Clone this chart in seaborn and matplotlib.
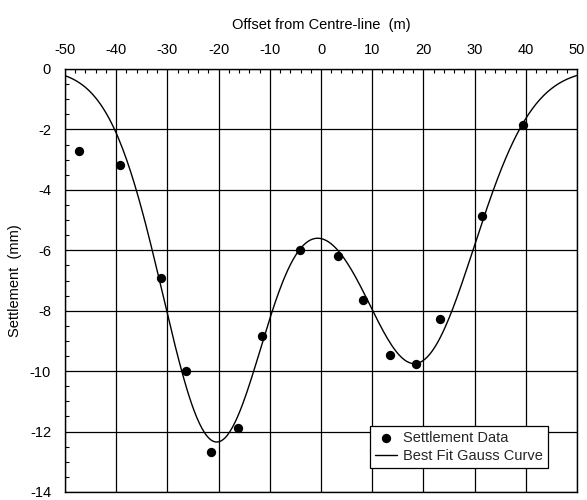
import numpy as np
import pandas as pd
import matplotlib
matplotlib.use("Agg")
import matplotlib.pyplot as plt
import seaborn as sns
from matplotlib.ticker import MultipleLocator

# Measured settlement data
offset_m = [-47.2, -39.2, -31.3, -26.4, -21.4, -16.3, -11.5, -4.1, 3.4,
            8.3, 13.4, 18.5, 23.3, 31.4, 39.5]
settlement_mm = [-2.71, -3.19, -6.91, -9.98, -12.68, -11.87, -8.83, -5.98, -6.18,
                 -7.65, -9.46, -9.75, -8.27, -4.86, -1.86]

# Best-fit Gauss curve parameters
gauss_centres = [-20.5, 18.5, 0.0]
gauss_depths = [12.3, 9.7, 1.25]
gauss_widths = [10.4, 11.4, 7.0]

x_ticks = [-50, -40, -30, -20, -10, 0, 10, 20, 30, 40, 50]
y_ticks = [0, -2, -4, -6, -8, -10, -12, -14]

sns.set_theme(style="white")
plt.rcParams['font.family'] = ['Liberation Sans', 'DejaVu Sans']

x_curve = np.linspace(-50, 50, 401)
y_curve = np.zeros_like(x_curve)
for c, a, w in zip(gauss_centres, gauss_depths, gauss_widths):
    y_curve -= a * np.exp(-(x_curve - c) ** 2 / (2 * w ** 2))

df_pts = pd.DataFrame({"x": offset_m, "y": settlement_mm})
df_curve = pd.DataFrame({"x": x_curve, "y": y_curve})

top_px, bottom_px = 69, 492
fig = plt.figure(figsize=(5.87, 5.0), dpi=100)
ax = fig.add_axes([65 / 587, 1 - bottom_px / 500, 512 / 587, (bottom_px - top_px) / 500])

sns.lineplot(data=df_curve, x="x", y="y", ax=ax, color="black", linewidth=1.0,
             label="Best Fit Gauss Curve", legend=False)
sns.scatterplot(data=df_pts, x="x", y="y", ax=ax, color="black", s=45,
                edgecolor="black", linewidth=0, label="Settlement Data", legend=False,
                zorder=5)

ax.set_xlim(-50, 50)
ax.set_ylim(-14, 0)
ax.set_xticks(x_ticks)
ax.set_yticks(y_ticks)
ax.set_xticklabels([str(v) for v in x_ticks])
ax.set_yticklabels([str(v) for v in y_ticks])
ax.xaxis.set_minor_locator(MultipleLocator(2))
ax.yaxis.set_minor_locator(MultipleLocator(0.5))

ax.xaxis.tick_top()
ax.xaxis.set_label_position("top")
ax.tick_params(axis="x", which="both", top=True, bottom=False, direction="in",
               labelsize=10.5, pad=9, colors="black")
ax.tick_params(axis="y", which="both", left=True, right=False, direction="in",
               labelsize=10.5, pad=10, colors="black")
ax.tick_params(which="major", length=0)
ax.tick_params(which="minor", length=3, width=0.8, color="black")

ax.grid(True, which="major", color="black", linewidth=0.9)
for sp in ax.spines.values():
    sp.set_color("black")
    sp.set_linewidth(1.0)

ax.set_xlabel("Offset from Centre-line  (m)", fontsize=10.5, labelpad=10, color="black")
ax.set_ylabel("Settlement  (mm)", fontsize=10.5, labelpad=6, color="black")

handles, labels = ax.get_legend_handles_labels()
order = [labels.index("Settlement Data"), labels.index("Best Fit Gauss Curve")]
h = bottom_px - top_px
leg = ax.legend([handles[i] for i in order], [labels[i] for i in order],
                loc="lower left", bbox_to_anchor=((370 - 65) / 512, (bottom_px - 468) / h),
                frameon=True, fancybox=False, edgecolor="black", framealpha=1,
                fontsize=10.5, handlelength=1.5, handletextpad=0.4, borderpad=0.35,
                labelspacing=0.25, borderaxespad=0)
leg.get_frame().set_linewidth(0.9)

fig.savefig("out.png", dpi=100)
